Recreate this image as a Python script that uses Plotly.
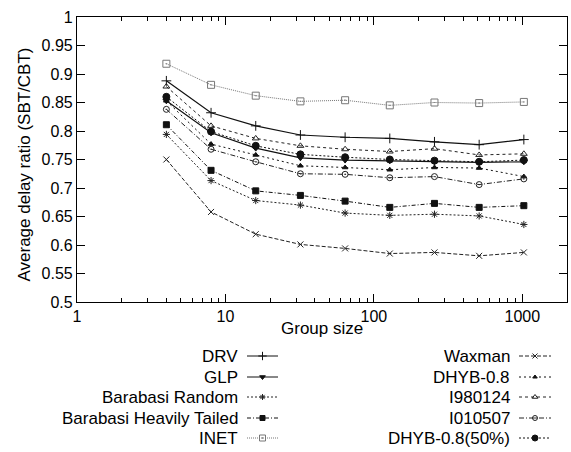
import plotly.graph_objects as go

# ---------------- data ----------------
group_sizes = [4, 8, 16, 32, 64, 128, 256, 512, 1024]

drv          = [0.888, 0.832, 0.809, 0.793, 0.789, 0.787, 0.781, 0.776, 0.785]
glp          = [0.853, 0.797, 0.770, 0.753, 0.749, 0.748, 0.746, 0.745, 0.746]
barabasi_rnd = [0.794, 0.713, 0.678, 0.670, 0.656, 0.652, 0.654, 0.651, 0.636]
barabasi_ht  = [0.811, 0.731, 0.695, 0.687, 0.677, 0.666, 0.673, 0.666, 0.669]
inet         = [0.918, 0.881, 0.862, 0.852, 0.854, 0.845, 0.850, 0.849, 0.851]
waxman       = [0.750, 0.658, 0.619, 0.601, 0.594, 0.585, 0.587, 0.581, 0.587]
dhyb08       = [0.853, 0.777, 0.758, 0.739, 0.736, 0.732, 0.736, 0.735, 0.720]
i980124      = [0.878, 0.809, 0.787, 0.774, 0.768, 0.764, 0.769, 0.758, 0.760]
i010507      = [0.838, 0.768, 0.746, 0.725, 0.724, 0.718, 0.720, 0.706, 0.716]
dhyb08_50    = [0.860, 0.799, 0.774, 0.759, 0.754, 0.750, 0.748, 0.746, 0.749]

series_names = ["DRV", "GLP", "Barabasi Random", "Barabasi Heavily Tailed", "INET",
                "Waxman", "DHYB-0.8", "I980124", "I010507", "DHYB-0.8(50%)"]
series_values = [drv, glp, barabasi_rnd, barabasi_ht, inet,
                 waxman, dhyb08, i980124, i010507, dhyb08_50]

y_tick_vals = [0.5, 0.55, 0.6, 0.65, 0.7, 0.75, 0.8, 0.85, 0.9, 0.95, 1]
y_tick_text = ["0.5", "0.55", "0.6", "0.65", "0.7", "0.75", "0.8", "0.85", "0.9", "0.95", "1"]
x_tick_vals = [1, 10, 100, 1000]
x_tick_text = ["1", "10", "100", "1000"]
x_title = "Group size"
y_title = "Average delay ratio (SBT/CBT)"

# ---------------- styles ----------------
styles = {
    "DRV":                     dict(dash="solid",        symbol="cross-thin",      size=7, color="#111", lw=1.2),
    "GLP":                     dict(dash="solid",        symbol="triangle-down",   size=6, color="#111", lw=1.2),
    "Barabasi Random":         dict(dash="2px,2px",      symbol="asterisk-open",   size=6, color="#222", lw=1.0),
    "Barabasi Heavily Tailed": dict(dash="4px,2px,1px,2px", symbol="square",       size=6, color="#111", lw=1.0),
    "INET":                    dict(dash="1px,1px",      symbol="square-open-dot", size=7, color="#777", lw=1.0),
    "Waxman":                  dict(dash="4px,2px",      symbol="x-thin",          size=6, color="#222", lw=1.0),
    "DHYB-0.8":                dict(dash="2px,3px",      symbol="triangle-up",     size=5, color="#111", lw=1.0),
    "I980124":                 dict(dash="3px,3px",      symbol="triangle-up-open", size=6, color="#222", lw=1.0),
    "I010507":                 dict(dash="5px,2px,1px,2px", symbol="circle-open-dot", size=6, color="#222", lw=1.0),
    "DHYB-0.8(50%)":           dict(dash="2px,2px",      symbol="circle",          size=7, color="#111", lw=1.0),
}

W, H = 571, 452
PL, PR, PT, PB = 77, 567, 17, 302
FONT = "Liberation Sans, Arial, Helvetica, sans-serif"

fig = go.Figure()

for name, vals in zip(series_names, series_values):
    s = styles[name]
    fig.add_trace(go.Scatter(
        x=group_sizes, y=vals, mode="lines+markers", name=name, showlegend=False,
        line=dict(color=s["color"], width=s["lw"], dash=s["dash"]),
        marker=dict(symbol=s["symbol"], size=s["size"], color=s["color"],
                    line=dict(color=s["color"], width=1)),
        xaxis="x", yaxis="y"))

# ---------------- custom legend (text left of sample) ----------------
leg_rows = [356, 377, 397, 418, 438]
leg_cols = [dict(text_x=240, x0=247, x1=278), dict(text_x=512, x0=519, x1=551)]
annotations = []
for i, name in enumerate(series_names):
    col = leg_cols[i // 5]
    row = leg_rows[i % 5]
    s = styles[name]
    fig.add_trace(go.Scatter(
        x=[col["x0"], col["x1"]], y=[row, row], mode="lines", showlegend=False,
        hoverinfo="skip", line=dict(color=s["color"], width=1, dash=s["dash"]),
        xaxis="x2", yaxis="y2"))
    fig.add_trace(go.Scatter(
        x=[(col["x0"] + col["x1"]) / 2], y=[row], mode="markers", showlegend=False,
        hoverinfo="skip",
        marker=dict(symbol=s["symbol"], size=s["size"] - 1, color=s["color"],
                    line=dict(color=s["color"], width=1)),
        xaxis="x2", yaxis="y2"))
    annotations.append(dict(x=col["text_x"], y=row, xref="x2", yref="y2", text=name,
                            showarrow=False, xanchor="right", yanchor="middle",
                            font=dict(family=FONT, size=17, color="#000")))

# axis titles
annotations.append(dict(x=(PL + PR) / 2, y=328, xref="x2", yref="y2", text=x_title,
                        showarrow=False, xanchor="center", yanchor="middle",
                        font=dict(family=FONT, size=17, color="#000")))
annotations.append(dict(x=24, y=(PT + PB) / 2 + 5, xref="x2", yref="y2", text=y_title,
                        textangle=-90, showarrow=False, xanchor="center", yanchor="middle",
                        font=dict(family=FONT, size=17, color="#000")))

minor_x = [m * 10 ** e for e in range(0, 4) for m in range(2, 10) if m * 10 ** e <= 2000]

fig.update_layout(
    width=W, height=H,
    margin=dict(l=0, r=0, t=0, b=0),
    paper_bgcolor="white", plot_bgcolor="rgba(0,0,0,0)",
    font=dict(family=FONT, size=16, color="#000"),
    annotations=annotations,
    xaxis=dict(
        type="log", range=[0, 3.301], domain=[PL / W, PR / W], anchor="y",
        tickmode="array", tickvals=x_tick_vals, ticktext=x_tick_text,
        ticks="inside", ticklen=8, tickcolor="#000", tickwidth=1,
        minor=dict(tickmode="array", tickvals=minor_x, ticks="inside", ticklen=4,
                   tickcolor="#000", tickwidth=1, showgrid=False),
        showline=True, linecolor="#000", linewidth=1.2, mirror="allticks",
        showgrid=False, zeroline=False, automargin=False,
        tickfont=dict(size=16),
    ),
    yaxis=dict(
        range=[0.5, 1], domain=[(H - PB) / H, (H - PT) / H], anchor="x",
        tickmode="array", tickvals=y_tick_vals, ticktext=y_tick_text,
        ticks="inside", ticklen=8, tickcolor="#000", tickwidth=1,
        showline=True, linecolor="#000", linewidth=1.2, mirror="allticks",
        showgrid=False, zeroline=False, automargin=False,
        tickfont=dict(size=16),
    ),
    xaxis2=dict(domain=[0, 1], range=[0, W], visible=False, anchor="y2", fixedrange=True),
    yaxis2=dict(domain=[0, 1], range=[H, 0], visible=False, anchor="x2", fixedrange=True),
)

fig.write_html("out.html")
